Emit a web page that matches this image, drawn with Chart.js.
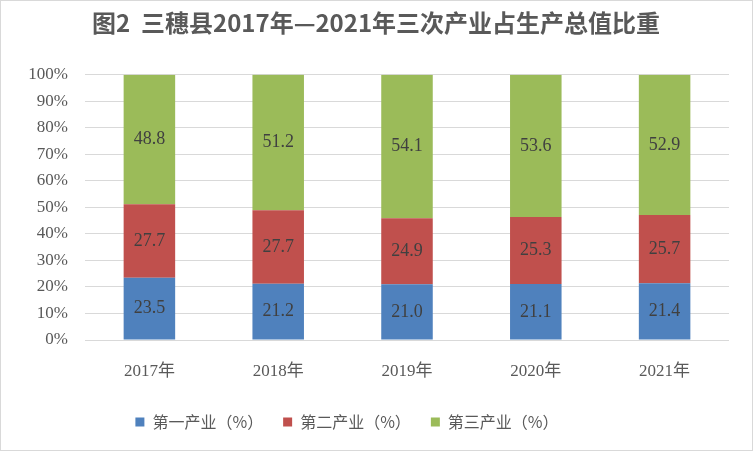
<!DOCTYPE html>
<html>
<head>
<meta charset="utf-8">
<script src="https://cdn.jsdelivr.net/npm/chart.js@4/dist/chart.umd.min.js"></script>
<style>
  html, body { margin: 0; padding: 0; background: #fff; }
  #wrap { position: relative; width: 753px; height: 451px; box-sizing: border-box; border: 1px solid #d9d9d9; }
  canvas { display: block; }
</style>
</head>
<body>
<div id="wrap"><canvas id="shareChart" width="751" height="449"></canvas></div>
<script>
// 三穗县三次产业占比 (%)
const years = ['2017年', '2018年', '2019年', '2020年', '2021年'];
const primary = [23.5, 21.2, 21.0, 21.1, 21.4];
const secondary = [27.7, 27.7, 24.9, 25.3, 25.7];
const tertiary = [48.8, 51.2, 54.1, 53.6, 52.9];
const seriesNames = ['第一产业（%）', '第二产业（%）', '第三产业（%）'];

const serif = '"Liberation Serif", "Noto Sans CJK SC", serif';
const cjk = '"Noto Sans CJK SC", sans-serif';

// draws the value in the middle of each bar segment
const valueLabels = {
    id: 'valueLabels',
    afterDatasetsDraw(chart) {
        const ctx = chart.ctx;
        ctx.save();
        ctx.font = '18px ' + serif;
        ctx.fillStyle = '#404040';
        ctx.textAlign = 'center';
        ctx.textBaseline = 'middle';
        chart.data.datasets.forEach((ds, i) => {
            chart.getDatasetMeta(i).data.forEach((bar, j) => {
                const mid = (bar.y + bar.base) / 2;
                ctx.fillText(ds.data[j].toFixed(1), bar.x, mid);
            });
        });
        ctx.restore();
    }
};

// nudge legend left and title right, like the original
const boxShift = {
    id: 'boxShift',
    afterLayout(chart) {
        chart.legend.left -= 18;
        chart.legend.right -= 18;
        chart.titleBlock.left += 11;
        chart.titleBlock.right += 11;
    }
};

const ctx = document.getElementById('shareChart').getContext('2d');
new Chart(ctx, {
    type: 'bar',
    data: {
        labels: years,
        datasets: [
            { label: seriesNames[0], data: primary, backgroundColor: '#4f81bd' },
            { label: seriesNames[1], data: secondary, backgroundColor: '#c0504d' },
            { label: seriesNames[2], data: tertiary, backgroundColor: '#9bbb59' }
        ]
    },
    options: {
        responsive: false,
        animation: false,
        events: [],
        layout: { padding: { left: 0, right: 23, top: 0, bottom: 10 } },
        datasets: { bar: { barPercentage: 0.4, categoryPercentage: 1 } },
        scales: {
            x: {
                stacked: true,
                afterFit(scale) { scale.height = 54; },
                grid: { display: false, drawTicks: false },
                border: { display: false },
                ticks: { color: '#595959', font: { family: serif, size: 17 }, padding: 21 }
            },
            y: {
                stacked: true,
                min: 0,
                max: 100,
                afterFit(scale) { scale.width = 84; },
                grid: { color: '#d9d9d9', drawTicks: false },
                border: { display: false },
                ticks: {
                    stepSize: 10,
                    color: '#595959',
                    padding: 17,
                    font: { family: serif, size: 17 },
                    callback: v => v + '%'
                }
            }
        },
        plugins: {
            title: {
                display: true,
                text: '图2  三穗县2017年—2021年三次产业占生产总值比重',
                color: '#595959',
                font: { family: cjk, size: 24, weight: 'bold' },
                padding: { top: 7, bottom: 38 }
            },
            legend: {
                position: 'bottom',
                labels: {
                    color: '#595959',
                    font: { family: cjk, size: 16 },
                    boxWidth: 9,
                    boxHeight: 9,
                    padding: 20
                }
            },
            tooltip: { enabled: false }
        }
    },
    plugins: [valueLabels, boxShift]
});
</script>
</body>
</html>
